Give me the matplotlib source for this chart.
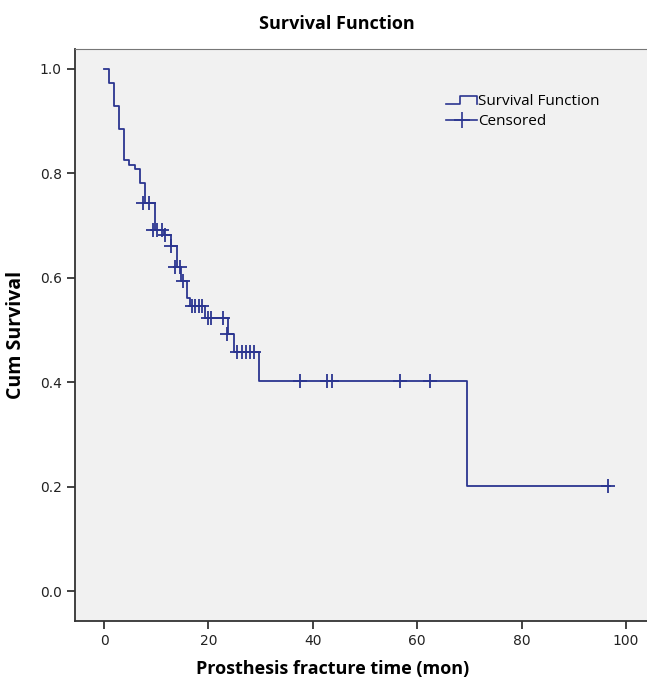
import matplotlib.pyplot as plt
from matplotlib.legend_handler import HandlerBase
from matplotlib.lines import Line2D

# step points of the survival curve (time in months, cumulative survival)
step_times = [0, 1.0, 1.9, 2.9, 3.9, 4.8, 5.9, 6.9, 7.9, 9.8, 11.5, 12.8, 13.9,
              14.7, 15.8, 16.5, 19.3, 23.8, 24.8, 29.6, 69.5, 97.0]
step_surv = [1.0, 0.973, 0.929, 0.885, 0.826, 0.816, 0.808, 0.781, 0.743, 0.692,
             0.682, 0.660, 0.621, 0.593, 0.561, 0.546, 0.522, 0.492, 0.458, 0.403,
             0.201, 0.201]

# censored observations
cens_times = [7.5, 8.7, 9.4, 10.1, 11.0, 11.7, 12.8, 13.6, 14.6, 15.2, 16.8, 17.4,
              18.1, 18.7, 19.9, 20.5, 22.7, 23.6, 25.5, 26.4, 27.2, 28.0, 28.7,
              37.5, 42.7, 43.6, 56.6, 62.5, 96.5]
cens_surv = [0.743, 0.743, 0.692, 0.692, 0.692, 0.682, 0.660, 0.621, 0.621, 0.593,
             0.546, 0.546, 0.546, 0.546, 0.522, 0.522, 0.522, 0.492, 0.458, 0.458,
             0.458, 0.458, 0.458, 0.403, 0.403, 0.403, 0.403, 0.403, 0.201]

LINE = '#2b3590'


class StepHandler(HandlerBase):
    def create_artists(self, legend, orig_handle, xd, yd, w, h, fontsize, trans):
        xs = [xd, xd + 0.45 * w, xd + 0.45 * w, xd + w, xd + w]
        ys = [yd + 0.1 * h, yd + 0.1 * h, yd + 0.9 * h, yd + 0.9 * h, yd + 0.1 * h]
        ln = Line2D(xs, ys, color=LINE, lw=1.2, transform=trans)
        return [ln]


fig = plt.figure(figsize=(6.47, 6.82), dpi=100)
ax = fig.add_axes([0.116, 0.0894, 0.884, 0.8386])
ax.set_facecolor('#f1f1f1')

ax.step(step_times, step_surv, where='post', color=LINE, lw=1.3)
ax.plot(cens_times, cens_surv, ls='none', marker='+', ms=10, mew=1.3, color=LINE)

ax.set_xlim(-5.56, 104.0)
ax.set_ylim(-0.0575, 1.038)
ax.set_xticks([0, 20, 40, 60, 80, 100])
ax.set_yticks([0.0, 0.2, 0.4, 0.6, 0.8, 1.0])
ax.set_yticklabels(['0.0', '0.2', '0.4', '0.6', '0.8', '1.0'])
ax.tick_params(direction='out', length=6, width=1.2, labelsize=10, colors='#222222')

for side in ['left', 'bottom']:
    ax.spines[side].set_color('#333333')
    ax.spines[side].set_linewidth(1.3)
ax.spines['top'].set_color('#777777')
ax.spines['right'].set_visible(False)

ax.set_xlabel('Prosthesis fracture time (mon)', fontsize=13, fontweight='bold',
              family='Open Sans')
ax.xaxis.set_label_coords(0.45, -0.068)
ax.set_ylabel('Cum Survival', fontsize=14, fontweight='bold', family='Open Sans',
              labelpad=10)
fig.text(337 / 647, 1 - 24 / 682, 'Survival Function', fontsize=13,
         fontweight='bold', family='Open Sans', ha='center', va='center')

surv_h = Line2D([], [], color=LINE)
cens_h = Line2D([], [], color=LINE, marker='+', ms=12, mew=1.2, lw=1.2)
leg = ax.legend([surv_h, cens_h], ['Survival Function', 'Censored'],
                handler_map={surv_h: StepHandler()},
                loc='upper left', bbox_to_anchor=(0.625, 0.945), frameon=False,
                handlelength=2.0, handletextpad=0.1, labelspacing=0.3,
                prop={'family': 'Open Sans', 'size': 11})

fig.savefig('out.png', dpi=100)
